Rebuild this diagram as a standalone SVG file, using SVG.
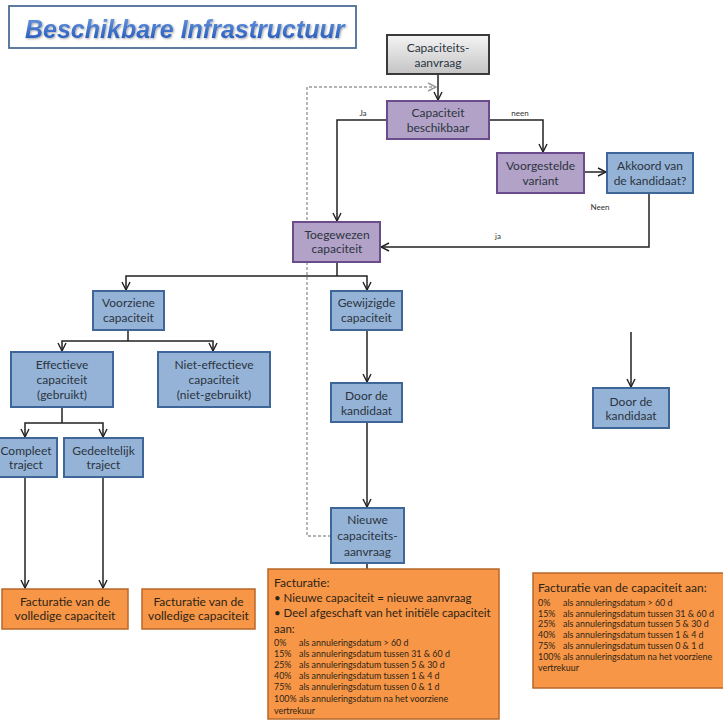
<svg xmlns="http://www.w3.org/2000/svg" width="723" height="722" viewBox="0 0 723 722">
<defs>
<linearGradient id="gGray" x1="0" y1="0" x2="0" y2="1"><stop offset="0" stop-color="#F4F4F4"/><stop offset="1" stop-color="#C4C4C4"/></linearGradient>
<linearGradient id="gTitle" x1="0" y1="0" x2="0" y2="1"><stop offset="0" stop-color="#6E9BE0"/><stop offset="1" stop-color="#1F55B8"/></linearGradient>
<marker id="arr" viewBox="0 0 10 10" refX="9" refY="5" markerWidth="10" markerHeight="10" markerUnits="userSpaceOnUse" orient="auto"><path d="M1,1 L9,5 L1,9" fill="none" stroke="#222" stroke-width="1.4"/></marker>
<marker id="arrG" viewBox="0 0 10 10" refX="9" refY="5" markerWidth="10" markerHeight="10" markerUnits="userSpaceOnUse" orient="auto"><path d="M1,1 L9,5 L1,9" fill="none" stroke="#999" stroke-width="1.4"/></marker>
<filter id="sh" x="-5%" y="-20%" width="110%" height="140%"><feDropShadow dx="1" dy="1" stdDeviation="0.8" flood-color="#000" flood-opacity="0.35"/></filter>
</defs>
<style>
text{font-family:Lato,"Liberation Sans",sans-serif;fill:#2B3440;font-size:12px;}
.c{text-anchor:middle;}
.blue{fill:#95B3D7;stroke:#3E6699;stroke-width:2;}
.purp{fill:#B3A2C7;stroke:#6A4C8C;stroke-width:2;}
.gray{fill:url(#gGray);stroke:#3A3A3A;stroke-width:2;}
.or{fill:#F79646;stroke:#B9672B;stroke-width:1.5;}
.ln{fill:none;stroke:#222;stroke-width:1.5;}
.lbl{font-size:8px;fill:#333;}
.ot{fill:#2E2418;}
.ob{fill:#2E2418;font-size:11.5px;}
.sm{font-size:8.9px;fill:#2E2418;}
</style>

<g id="title">
<rect x="9" y="6" width="347" height="42" fill="#FFFFFF" stroke="#4D6E96" stroke-width="1.8"/>
<text x="25" y="37.5" style="font-family:'Liberation Sans',Arial,sans-serif;font-weight:bold;font-style:italic;font-size:25px;fill:url(#gTitle)" filter="url(#sh)">Beschikbare Infrastructuur</text>
</g>

<g id="connectors">
<path class="ln" d="M438,74 V100" marker-end="url(#arr)"/>
<path class="ln" d="M387,120 H337 V221" marker-end="url(#arr)"/>
<path class="ln" d="M489,120 H543 V152" marker-end="url(#arr)"/>
<path class="ln" d="M584,172 H606" marker-end="url(#arr)"/>
<path class="ln" d="M649,193 V247 H381" marker-end="url(#arr)"/>
<path class="ln" d="M337,262 V276"/>
<path class="ln" d="M337,276 H126 V290" marker-end="url(#arr)"/>
<path class="ln" d="M337,276 H367 V290" marker-end="url(#arr)"/>
<path class="ln" d="M128,330 V341"/>
<path class="ln" d="M128,341 H62 V351" marker-end="url(#arr)"/>
<path class="ln" d="M128,341 H213 V351" marker-end="url(#arr)"/>
<path class="ln" d="M62,407 V423"/>
<path class="ln" d="M62,423 H25 V437" marker-end="url(#arr)"/>
<path class="ln" d="M62,423 H103 V437" marker-end="url(#arr)"/>
<path class="ln" d="M25,477 V588" stroke="#444" marker-end="url(#arr)"/>
<path class="ln" d="M103,477 V588" stroke="#444" marker-end="url(#arr)"/>
<path class="ln" d="M367,330 V382" stroke="#444" marker-end="url(#arr)"/>
<path class="ln" d="M367,422 V507" stroke="#444" marker-end="url(#arr)"/>
<path class="ln" d="M367,563 V569"/>
<path class="ln" d="M631,332 V387" stroke="#444" marker-end="url(#arr)"/>
<path d="M331,536 H307 V87 H436" fill="none" stroke="#9A9A9A" stroke-width="1.4" stroke-dasharray="3,2" marker-end="url(#arrG)"/>
<text class="lbl c" x="363" y="116">Ja</text>
<text class="lbl c" x="520" y="116">neen</text>
<text class="lbl c" x="600" y="210">Neen</text>
<text class="lbl c" x="498" y="239">ja</text>
</g>

<g id="n-aanvraag"><rect class="gray" x="387" y="35" width="102" height="39"/><text class="c" x="438" y="52">Capaciteits-</text><text class="c" x="438" y="67">aanvraag</text></g>
<g id="n-beschikbaar"><rect class="purp" x="387" y="101" width="102" height="38"/><text class="c" x="438" y="117">Capaciteit</text><text class="c" x="438" y="132">beschikbaar</text></g>
<g id="n-voorgesteld"><rect class="purp" x="497" y="153" width="87" height="40"/><text class="c" x="540.5" y="170">Voorgestelde</text><text class="c" x="540.5" y="185">variant</text></g>
<g id="n-akkoord"><rect class="blue" x="607" y="153" width="86" height="40"/><text class="c" x="650" y="170">Akkoord van</text><text class="c" x="650" y="185">de kandidaat?</text></g>
<g id="n-toegewezen"><rect class="purp" x="293" y="222" width="87" height="40"/><text class="c" x="337" y="239">Toegewezen</text><text class="c" x="337" y="253">capaciteit</text></g>
<g id="n-gewijzigd"><rect class="blue" x="331" y="291" width="71" height="39"/><text class="c" x="366.5" y="307">Gewijzigde</text><text class="c" x="366.5" y="322">capaciteit</text></g>
<g id="n-door1"><rect class="blue" x="331" y="383" width="71" height="39"/><text class="c" x="366.5" y="400">Door de</text><text class="c" x="366.5" y="415">kandidaat</text></g>
<g id="n-nieuwe"><rect class="blue" x="331" y="508" width="73" height="55"/><text class="c" x="367.5" y="524">Nieuwe</text><text class="c" x="367.5" y="540">capaciteits-</text><text class="c" x="367.5" y="556">aanvraag</text></g>
<g id="n-voorzien"><rect class="blue" x="93" y="291" width="71" height="39"/><text class="c" x="128.5" y="307">Voorziene</text><text class="c" x="128.5" y="322">capaciteit</text></g>
<g id="n-effectief"><rect class="blue" x="11" y="352" width="102" height="55"/><text class="c" x="62" y="369">Effectieve</text><text class="c" x="62" y="384">capaciteit</text><text class="c" x="62" y="399">(gebruikt)</text></g>
<g id="n-nieteffectief"><rect class="blue" x="158" y="352" width="112" height="55"/><text class="c" x="214" y="369">Niet-effectieve</text><text class="c" x="214" y="384">capaciteit</text><text class="c" x="214" y="399">(niet-gebruikt)</text></g>
<g id="n-compleet"><rect class="blue" x="-2" y="438" width="59" height="39"/><text class="c" x="26" y="455">Compleet</text><text class="c" x="26" y="469">traject</text></g>
<g id="n-gedeeltelijk"><rect class="blue" x="64" y="438" width="79" height="39"/><text class="c" x="103.5" y="455">Gedeeltelijk</text><text class="c" x="103.5" y="469">traject</text></g>
<g id="n-door2"><rect class="blue" x="593" y="388" width="76" height="40"/><text class="c" x="631" y="406">Door de</text><text class="c" x="631" y="420">kandidaat</text></g>
<g id="n-fact1"><rect class="or" x="2" y="589" width="126" height="40"/><text class="c ot" x="65" y="606">Facturatie van de</text><text class="c ot" x="65" y="620">volledige capaciteit</text></g>
<g id="n-fact2"><rect class="or" x="142" y="589" width="113" height="40"/><text class="c ot" x="198.5" y="606">Facturatie van de</text><text class="c ot" x="198.5" y="620">volledige capaciteit</text></g>
<g id="n-fact3"><rect class="or" x="268" y="569" width="231" height="150"/>
<text class="ot" x="274" y="587">Facturatie:</text>
<text class="ob" x="274" y="602">• Nieuwe capaciteit = nieuwe aanvraag</text>
<text class="ob" x="274" y="617">• Deel afgeschaft van het initiële  capaciteit</text>
<text class="ob" x="274" y="633">aan:</text>
<text class="sm" x="274" y="646">0%</text><text class="sm" x="299" y="646">als annuleringsdatum &gt; 60 d</text>
<text class="sm" x="274" y="657">15%</text><text class="sm" x="299" y="657">als annuleringsdatum tussen 31 &amp; 60 d</text>
<text class="sm" x="274" y="668">25%</text><text class="sm" x="299" y="668">als annuleringsdatum tussen 5 &amp; 30 d</text>
<text class="sm" x="274" y="679">40%</text><text class="sm" x="299" y="679">als annuleringsdatum tussen 1 &amp; 4 d</text>
<text class="sm" x="274" y="690">75%</text><text class="sm" x="299" y="690">als annuleringsdatum tussen 0 &amp; 1 d</text>
<text class="sm" x="274" y="702">100%</text><text class="sm" x="299" y="702">als annuleringsdatum na het voorziene</text>
<text class="sm" x="274" y="714">vertrekuur</text>
</g>
<g id="n-fact4"><rect class="or" x="533" y="573" width="192" height="115"/>
<text class="ot" x="538" y="592">Facturatie van de capaciteit aan:</text>
<text class="sm" x="538" y="606">0%</text><text class="sm" x="563" y="606">als annuleringsdatum &gt; 60 d</text>
<text class="sm" x="538" y="616.5">15%</text><text class="sm" x="563" y="616.5">als annuleringsdatum tussen 31 &amp; 60 d</text>
<text class="sm" x="538" y="627">25%</text><text class="sm" x="563" y="627">als annuleringsdatum tussen 5 &amp; 30 d</text>
<text class="sm" x="538" y="638">40%</text><text class="sm" x="563" y="638">als annuleringsdatum tussen 1 &amp; 4 d</text>
<text class="sm" x="538" y="649">75%</text><text class="sm" x="563" y="649">als annuleringsdatum tussen 0 &amp; 1 d</text>
<text class="sm" x="538" y="660">100%</text><text class="sm" x="563" y="660">als annuleringsdatum na het voorziene</text>
<text class="sm" x="538" y="671">vertrekuur</text>
</g>
</svg>
